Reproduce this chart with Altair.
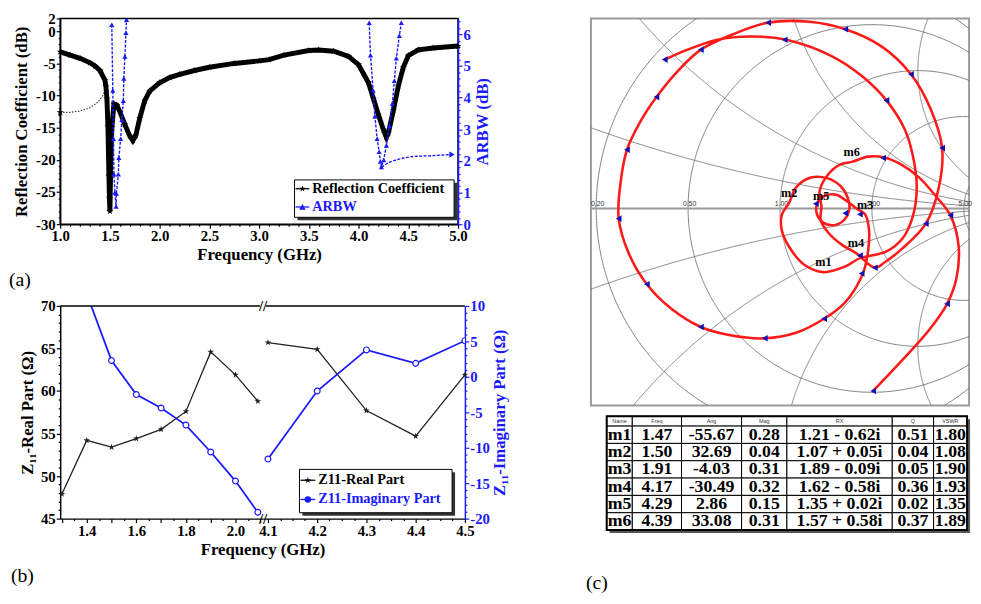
import numpy as np
import pandas as pd
import altair as alt

alt.data_transformers.disable_max_rows()

SERIF = "Liberation Serif"
SANS = "Liberation Sans"
BLUE = "#1a1aff"
NAVY = "#1212b4"
RED = "#ff1a1a"
GRID = "#707070"
STAR = ("M0,-1L0.2245,-0.309L0.9511,-0.309L0.3633,0.118L0.5878,0.809L0,0.382"
        "L-0.5878,0.809L-0.3633,0.118L-0.9511,-0.309L-0.2245,-0.309Z")

# ======================= data (a) =======================
rc_freq = [1.0, 1.1, 1.2, 1.3, 1.35, 1.4, 1.45, 1.46, 1.47, 1.48, 1.49, 1.495, 1.50, 1.51, 1.52,
           1.54, 1.57, 1.6, 1.65, 1.7, 1.73, 1.76, 1.8, 1.85, 1.9, 2.0, 2.1, 2.2, 2.35, 2.5, 2.75,
           3.0, 3.1, 3.25, 3.5, 3.6, 3.75, 3.9, 4.0, 4.1, 4.15, 4.2, 4.25, 4.28, 4.3, 4.35, 4.4,
           4.45, 4.5, 4.6, 4.75, 5.0]
rc_db = [-3.2, -3.7, -4.2, -4.9, -5.4, -6.1, -7.6, -8.6, -10.5, -14.8, -22.5, -26.0, -28.0, -19.0,
         -15.0, -11.3, -11.5, -12.5, -14.5, -16.3, -17.0, -16.2, -13.5, -10.8, -9.3, -8.0, -7.2,
         -6.7, -6.1, -5.6, -5.0, -4.6, -4.4, -3.7, -3.0, -2.9, -3.1, -3.9, -5.2, -8.0, -10.5,
         -13.0, -15.3, -16.5, -15.8, -12.3, -8.5, -5.6, -3.8, -2.9, -2.6, -2.3]
rc_low_freq = [1.0, 1.1, 1.2, 1.3, 1.38, 1.43, 1.46]
rc_low_db = [-12.6, -12.6, -12.4, -11.9, -11.0, -10.0, -8.8]
arbw1_freq = [1.519, 1.529, 1.536, 1.540, 1.550, 1.562, 1.565, 1.585, 1.590, 1.608, 1.620, 1.635,
              1.640, 1.651, 1.661, 1.667]
arbw1_db = [6.3, 4.22, 2.7, 1.58, 1.0, 0.56, 0.97, 1.58, 2.1, 2.7, 3.3, 3.9, 4.6, 5.3, 6.05, 6.46]
arbw2_freq = [4.107, 4.12, 4.147, 4.164, 4.187, 4.207, 4.22, 4.23, 4.253, 4.28, 4.31, 4.34, 4.36,
              4.38, 4.41, 4.43]
arbw2_db = [6.36, 5.34, 4.22, 3.41, 2.7, 2.29, 1.98, 1.81, 2.03, 2.49, 3.1, 3.81, 4.53, 5.24, 5.95, 6.36]
arbw3_freq = [4.23, 4.246, 4.30, 4.378, 4.45, 4.544, 4.709, 4.94]
arbw3_db = [1.81, 1.83, 1.95, 2.03, 2.09, 2.14, 2.16, 2.2]
legend_a = ["Reflection Coefficient", "ARBW"]

# ======================= data (b) =======================
real_lo_freq = [1.3, 1.4, 1.5, 1.6, 1.7, 1.8, 1.9, 2.0, 2.09]
real_lo = [47.9, 54.2, 53.4, 54.4, 55.5, 57.6, 64.6, 61.9, 58.8]
imag_lo_freq = [1.4, 1.5, 1.6, 1.7, 1.8, 1.9, 2.0, 2.09]
imag_lo = [11.7, 2.3, -2.5, -4.4, -6.8, -10.6, -14.7, -19.1]
hi_freq = [4.1, 4.2, 4.3, 4.4, 4.5]
real_hi = [65.7, 64.9, 57.7, 54.7, 61.9]
imag_hi = [-11.6, -2.0, 3.8, 1.9, 5.1]
legend_b = ["Z11-Real Part", "Z11-Imaginary Part"]

# ======================= data (c) =======================
trace_re = [-0.418, -0.335, -0.227, -0.108, 0.023, 0.189, 0.296, 0.386, 0.451, 0.481, 0.496, 0.481,
            0.445, 0.386, 0.332, 0.290, 0.237, 0.158, 0.088, 0.040, 0.008, 0.006, 0.034, 0.058,
            0.112, 0.171, 0.219, 0.246, 0.251, 0.231, 0.192, 0.154, 0.133, 0.137, 0.163, 0.204,
            0.243, 0.279, 0.309, 0.323, 0.320, 0.306, 0.279, 0.231, 0.160, 0.058, -0.055, -0.180,
            -0.287, -0.394, -0.483, -0.549, -0.585, -0.579, -0.555, -0.507, -0.448, -0.370, -0.287,
            -0.168, -0.043, 0.106, 0.237, 0.368, 0.475, 0.546, 0.588, 0.576, 0.529, 0.445, 0.380,
            0.344, 0.276, 0.225, 0.177, 0.148, 0.150, 0.144, 0.175, 0.219, 0.260, 0.320, 0.374,
            0.439, 0.505, 0.564, 0.618, 0.648, 0.639, 0.606, 0.540, 0.439, 0.338]
trace_im = [0.540, 0.576, 0.612, 0.624, 0.612, 0.552, 0.481, 0.392, 0.290, 0.195, 0.076, -0.031,
            -0.108, -0.156, -0.171, -0.180, -0.210, -0.231, -0.204, -0.150, -0.085, -0.025, 0.022,
            0.076, 0.112, 0.110, 0.082, 0.038, -0.005, -0.043, -0.061, -0.049, -0.017, 0.023, 0.046,
            0.050, 0.026, -0.001, -0.022, -0.079, -0.150, -0.221, -0.281, -0.346, -0.400, -0.451,
            -0.471, -0.460, -0.430, -0.364, -0.275, -0.162, -0.037, 0.088, 0.213, 0.314, 0.404,
            0.499, 0.576, 0.633, 0.674, 0.677, 0.650, 0.588, 0.487, 0.362, 0.219, 0.076, -0.055,
            -0.144, -0.195, -0.215, -0.162, -0.132, -0.090, -0.043, 0.007, 0.064, 0.124, 0.160,
            0.169, 0.188, 0.186, 0.160, 0.112, 0.046, -0.025, -0.138, -0.257, -0.346, -0.442,
            -0.555, -0.662]
arrow_re = [-0.418, -0.287, -0.043, 0.017, 0.237, 0.386, 0.475, 0.588, 0.529, -0.448, -0.555,
            -0.585, -0.483, -0.287, -0.055, 0.160, 0.296, 0.344, 0.290, 0.290, 0.237, 0.130,
            0.374, 0.618, 0.606, 0.338]
arrow_im = [0.540, 0.576, 0.674, 0.612, 0.650, 0.392, 0.487, 0.219, -0.055, 0.404, 0.213,
            -0.037, -0.275, -0.430, -0.471, -0.400, -0.236, -0.215, -0.171, -0.021, -0.017, 0.017,
            0.183, -0.025, -0.346, -0.662]
grid_r = [0.2, 0.5, 1.0, 2.0, 5.0]
grid_x = [0.2, 0.5, 1.0, 2.0, 5.0, -0.2, -0.5, -1.0, -2.0, -5.0]
axis_x = [0.0]
mk_name = ["m1", "m2", "m3", "m4", "m5", "m6"]
mk_freq = [1.47, 1.50, 1.91, 4.17, 4.29, 4.39]
mk_ang = [-55.67, 32.69, -4.03, -30.49, 2.86, 33.08]
mk_mag = [0.28, 0.04, 0.31, 0.32, 0.15, 0.31]
mk_rx = ["1.21 - 0.62i", "1.07 + 0.05i", "1.89 - 0.09i", "1.62 - 0.58i", "1.35 + 0.02i", "1.57 + 0.58i"]
mk_q = [0.51, 0.04, 0.05, 0.36, 0.02, 0.37]
mk_vswr = [1.80, 1.08, 1.90, 1.93, 1.35, 1.89]
table_head = ["Name", "Freq", "Ang", "Mag", "RX", "Q", "VSWR"]

ONE = pd.DataFrame({"k": [0]})


def tick_axis(values, major, label_test, label_text, **kw):
    return alt.Axis(values=values, labelExpr=f"({label_test}) ? {label_text} : ''",
                    tickSize={"condition": {"test": f"!({major})", "value": 2}, "value": 4},
                    grid=False, labelOverlap=False, labelFlush=False, **kw)


def legend(labels, colors, shapes, box, rows, sx, tx, size):
    x0, y0, x1, y1 = box
    lay = [
        alt.Chart(ONE).mark_rect(fill="#333333").encode(
            x=alt.value(x0 + 3), x2=alt.value(x1 + 3), y=alt.value(y0 + 3), y2=alt.value(y1 + 3)),
        alt.Chart(ONE).mark_rect(fill="white", stroke="black", strokeWidth=1).encode(
            x=alt.value(x0), x2=alt.value(x1), y=alt.value(y0), y2=alt.value(y1)),
    ]
    for lab, col, shp, ry in zip(labels, colors, shapes, rows):
        d = pd.DataFrame({"label": [lab]})
        lay.append(alt.Chart(d).mark_rule(color=col, strokeWidth=1.3).encode(
            x=alt.value(sx[0]), x2=alt.value(sx[1]), y=alt.value(ry)))
        lay.append(alt.Chart(d).mark_point(shape=shp, filled=True, color=col, size=45, opacity=1).encode(
            x=alt.value((sx[0] + sx[1]) / 2), y=alt.value(ry)))
        lay.append(alt.Chart(d).mark_text(align="left", baseline="middle", font=SERIF, fontWeight="bold",
                                          fontSize=size, color=col).encode(
            x=alt.value(tx), y=alt.value(ry), text="label:N"))
    return lay


# ======================= panel (a) =======================
W_A, H_A = 404, 209
xa_axis = tick_axis([round(1 + 0.1 * i, 1) for i in range(41)], "round(datum.value*10) % 5 == 0",
                    "round(datum.value*10) % 5 == 0", "format(datum.value, '.1f')",
                    title="Frequency (GHz)", titlePadding=3)
ya_axis = tick_axis(list(range(-30, 3)), "datum.value % 5 == 0 || datum.value == 2",
                    "datum.value % 5 == 0 || datum.value == 2", "'' + datum.value",
                    title="Reflection Coefficient (dB)", titlePadding=5)
yar_axis = tick_axis([round(0.2 * i, 1) for i in range(33)], "round(datum.value*10) % 10 == 0",
                     "round(datum.value*10) % 10 == 0", "'' + round(datum.value)",
                     title="ARBW (dB)", orient="right", titleAngle=270, titleBaseline="top", titlePadding=4,
                     domainColor=BLUE, tickColor=BLUE, labelColor=BLUE, titleColor=BLUE)
X_A = alt.X("f:Q", scale=alt.Scale(domain=[1, 5], nice=False, zero=False), axis=xa_axis)
Y_RC = alt.Y("db:Q", scale=alt.Scale(domain=[-30, 2], nice=False, zero=False), axis=ya_axis)
Y_AR = alt.Y("val:Q", scale=alt.Scale(domain=[0, 6.5], nice=False, zero=False), axis=yar_axis)

rc_df = pd.DataFrame({"f": rc_freq, "db": rc_db})
rc_low_df = pd.DataFrame({"f": rc_low_freq, "db": rc_low_db})
ar_df = pd.concat([pd.DataFrame({"f": fr, "val": vv, "seg": k}) for k, (fr, vv) in
                   enumerate([(arbw1_freq, arbw1_db), (arbw2_freq, arbw2_db), (arbw3_freq, arbw3_db)])])

black_a = alt.layer(
    alt.Chart(rc_low_df).mark_line(color="#333333", strokeWidth=1.2, strokeDash=[1.5, 1.5]).encode(x=X_A, y=Y_RC),
    alt.Chart(rc_low_df.iloc[:1]).mark_point(shape=STAR, filled=True, color="black", size=60, opacity=1).encode(x=X_A, y=Y_RC),
    alt.Chart(rc_df).mark_line(color="black", strokeWidth=5).encode(x=X_A, y=Y_RC),
    alt.Chart(rc_df).mark_point(shape=STAR, filled=True, color="black", size=55, opacity=1).encode(x=X_A, y=Y_RC),
)
blue_a = alt.layer(
    alt.Chart(ar_df).mark_line(color=BLUE, strokeWidth=1.4, strokeDash=[3, 1.5], clip=True).encode(
        x=X_A, y=Y_AR, detail="seg:N"),
    alt.Chart(ar_df).transform_filter("datum.seg < 2").mark_point(
        shape="triangle-up", filled=True, color=BLUE, size=28, opacity=1, clip=True).encode(x=X_A, y=Y_AR),
    alt.Chart(ar_df.iloc[-1:]).mark_point(shape="triangle-right", filled=True, color=BLUE, size=40,
                                          opacity=1).encode(x=X_A, y=Y_AR),
)
panel_a = alt.layer(
    black_a, blue_a,
    *legend(legend_a, ["black", BLUE], [STAR, "triangle-up"], (238, 164, 400, 202), [173, 191.5],
            (239, 253), 256, 14.5),
).resolve_scale(y="independent").properties(
    width=W_A, height=H_A,
    view=alt.ViewBackground(stroke="black", strokeWidth=1.5),
    title=alt.TitleParams("(a)", orient="bottom", anchor="start", frame="bounds", offset=8, dx=-4,
                          font=SERIF, fontSize=20, fontWeight="normal"),
)

# ======================= panel (b) =======================
W_BL, W_BR, H_B = 206, 205, 216
xbl_axis = tick_axis([round(1.3 + 0.05 * i, 2) for i in range(17)], "round(datum.value*100) % 10 == 0",
                     "round(datum.value*100) % 20 == 0", "format(datum.value, '.1f')",
                     title="Frequency (GHz)", titleX=205.5, titleAlign="center", titlePadding=3)
xbr_axis = tick_axis([round(4.1 + 0.025 * i, 3) for i in range(17)], "round(datum.value*1000) % 100 == 0",
                     "round(datum.value*1000) % 100 == 0", "format(datum.value, '.1f')", title="")
yre_axis = tick_axis(list(range(45, 71)), "datum.value % 5 == 0", "datum.value % 5 == 0", "'' + datum.value",
                     title="Z₁₁-Real Part (Ω)", titlePadding=4)
yim_axis = tick_axis(list(range(-20, 11)), "datum.value % 5 == 0", "datum.value % 5 == 0", "'' + datum.value",
                     title="Z₁₁-Imaginary Part (Ω)", orient="right", titleAngle=270, titleBaseline="top",
                     titlePadding=2, domainColor=BLUE, tickColor=BLUE, labelColor=BLUE, titleColor=BLUE)
RE_SCALE = alt.Scale(domain=[45, 70], nice=False, zero=False)
IM_SCALE = alt.Scale(domain=[-20, 10], nice=False, zero=False)


def b_chart(freq_re, vals_re, freq_im, vals_im, x_enc, show_left, width, extra):
    y_re = alt.Y("v:Q", scale=RE_SCALE, axis=yre_axis if show_left else None)
    y_im = alt.Y("v:Q", scale=IM_SCALE, axis=None if show_left else yim_axis)
    dre = pd.DataFrame({"f": freq_re, "v": vals_re})
    dim = pd.DataFrame({"f": freq_im, "v": vals_im})
    re = alt.layer(
        alt.Chart(dre).mark_line(color="#222222", strokeWidth=1.3).encode(x=x_enc, y=y_re),
        alt.Chart(dre).mark_point(shape=STAR, filled=True, color="#222222", size=50, opacity=1).encode(x=x_enc, y=y_re),
    )
    im = alt.layer(
        alt.Chart(dim).mark_line(color=BLUE, strokeWidth=1.8, clip=True).encode(x=x_enc, y=y_im),
        alt.Chart(dim).mark_point(shape="circle", filled=True, fill="white", stroke=BLUE, strokeWidth=1.2,
                                  size=35, opacity=1, clip=True).encode(x=x_enc, y=y_im),
    )
    return alt.layer(re, im, *extra).resolve_scale(y="independent").properties(
        width=width, height=H_B, view=alt.ViewBackground(strokeOpacity=0))


X_BL = alt.X("f:Q", scale=alt.Scale(domain=[1.293, 2.111], nice=False, zero=False), axis=xbl_axis)
X_BR = alt.X("f:Q", scale=alt.Scale(domain=[4.09, 4.5], nice=False, zero=False), axis=xbr_axis)
brk = pd.DataFrame({"t": ["//"]})
b_left = b_chart(real_lo_freq, real_lo, imag_lo_freq, imag_lo, X_BL, True, W_BL, [
    alt.Chart(ONE).mark_rule(color="black", strokeWidth=1.5).encode(
        x=alt.value(0), x2=alt.value(W_BL - 3), y=alt.value(0)),
]).properties(title=alt.TitleParams("(b)", orient="bottom", anchor="start", frame="bounds", offset=9, dx=-8,
                                    font=SERIF, fontSize=20, fontWeight="normal"))
b_right = b_chart(hi_freq, real_hi, hi_freq, imag_hi, X_BR, False, W_BR, [
    alt.Chart(ONE).mark_rule(color="black", strokeWidth=1.5).encode(
        x=alt.value(3), x2=alt.value(W_BR), y=alt.value(0)),
    alt.Chart(brk).mark_text(font=SERIF, fontSize=15, fontWeight="bold", color="black").encode(
        x=alt.value(0), y=alt.value(0), text="t:N"),
    alt.Chart(brk).mark_text(font=SERIF, fontSize=15, fontWeight="bold", color="black").encode(
        x=alt.value(0), y=alt.value(H_B), text="t:N"),
    *legend(legend_b, ["black", BLUE], [STAR, "circle"], (37, 166, 192, 210), [177, 196.5], (38, 53), 56, 14.5),
])
b_row = alt.hconcat(b_left, b_right, spacing=0, bounds="flush")

# ======================= panel (c): Smith chart =======================
W_S, H_S = 384, 393
rows = []
t = np.linspace(-np.pi / 2 + 1e-4, np.pi / 2 - 1e-4, 801)
for r in grid_r:
    z = r + 1j * np.tan(t)
    g = (z - 1) / (z + 1)
    rows += [{"g": f"r{r}", "i": i, "u": c.real, "v": c.imag} for i, c in enumerate(g)]
s = np.linspace(0, np.pi / 2 - 1e-4, 801)
for xv in grid_x + axis_x:
    z = np.tan(s) + 1j * xv
    g = (z - 1) / (z + 1)
    rows += [{"g": f"x{xv}", "i": i, "u": c.real, "v": c.imag} for i, c in enumerate(g)]
grid_df = pd.DataFrame(rows)

XS = alt.X("u:Q", scale=alt.Scale(domain=[-0.6857, 0.6857], nice=False, zero=False), axis=None)
YS = alt.Y("v:Q", scale=alt.Scale(domain=[-0.7143, 0.6893], nice=False, zero=False), axis=None)
trace_df = pd.DataFrame({"u": trace_re, "v": trace_im, "i": range(len(trace_re))})
arrow_df = pd.DataFrame({"u": arrow_re, "v": arrow_im})
mk_df = pd.DataFrame({"name": mk_name,
                      "u": [m * np.cos(np.radians(a)) for m, a in zip(mk_mag, mk_ang)],
                      "v": [m * np.sin(np.radians(a)) for m, a in zip(mk_mag, mk_ang)]})
rlab_df = pd.DataFrame({"u": [(r - 1) / (r + 1) for r in grid_r], "v": [0.0] * len(grid_r),
                        "t": [f"{r:.2f}" for r in grid_r]})

smith = alt.layer(
    alt.Chart(ONE).mark_rule(opacity=0, strokeWidth=0.5).encode(
        x=alt.value(10), x2=alt.value(11), y=alt.value(-7.5)),
    alt.Chart(grid_df).transform_filter("datum.g != 'x0.0'").mark_line(
        color=GRID, strokeWidth=0.9, clip=True).encode(x=XS, y=YS, detail="g:N", order="i:Q"),
    alt.Chart(grid_df).transform_filter("datum.g == 'x0.0'").mark_line(
        color="#9a9a9a", strokeWidth=2, clip=True).encode(x=XS, y=YS, order="i:Q"),
    alt.Chart(rlab_df).mark_text(font=SANS, fontSize=7, baseline="bottom", dy=-1, dx=1.5, color="#333").encode(
        x=XS, y=YS, text="t:N"),
    alt.Chart(trace_df).mark_line(color=RED, strokeWidth=2.6, interpolate="catmull-rom", clip=True).encode(
        x=XS, y=YS, order="i:Q"),
    alt.Chart(arrow_df).mark_point(shape="triangle-left", filled=True, color=NAVY, size=45, opacity=1,
                                   clip=True).encode(x=XS, y=YS),
    alt.Chart(mk_df).mark_text(font=SERIF, fontSize=12.5, fontWeight="bold", dy=-10, color="black").encode(
        x=XS, y=YS, text="name:N"),
).properties(width=W_S, height=H_S, view=alt.ViewBackground(stroke="#9c9c9c", strokeWidth=2))

# ======================= table =======================
W_T, H_T = 384, 125
COL_W = [26, 50, 61, 46, 107, 42, 34]
TAB_X0, HEAD_H, ROW_H = 16, 10, 17.6
edges = [TAB_X0 + sum(COL_W[:k]) for k in range(len(COL_W) + 1)]
body = [mk_name, [f"{v:.2f}" for v in mk_freq], [f"{v:.2f}" for v in mk_ang], [f"{v:.2f}" for v in mk_mag],
        mk_rx, [f"{v:.2f}" for v in mk_q], [f"{v:.2f}" for v in mk_vswr]]
cells = []
for c in range(7):
    cells.append(dict(x0=edges[c], x1=edges[c + 1], y0=0, y1=HEAD_H, txt=table_head[c], kind="head"))
    for r in range(6):
        y0 = HEAD_H + r * ROW_H
        cells.append(dict(x0=edges[c], x1=edges[c + 1], y0=y0, y1=y0 + ROW_H, txt=body[c][r], kind="body"))
cell_df = pd.DataFrame(cells)
cell_df["xc"] = (cell_df.x0 + cell_df.x1) / 2
cell_df["yc"] = (cell_df.y0 + cell_df.y1) / 2
box_df = pd.DataFrame({"x0": [edges[0]], "x1": [edges[-1]], "y0": [0], "y1": [HEAD_H + 6 * ROW_H]})
shadow_df = box_df + 3

XT = alt.Scale(domain=[0, W_T], nice=False, zero=False)
YT = alt.Scale(domain=[0, H_T], nice=False, zero=False, reverse=True)


def tx(f):
    return alt.X(f, scale=XT, axis=None)


def ty(f):
    return alt.Y(f, scale=YT, axis=None)


table = alt.layer(
    alt.Chart(shadow_df).mark_rect(fill="#555555").encode(x=tx("x0:Q"), x2="x1:Q", y=ty("y0:Q"), y2="y1:Q"),
    alt.Chart(cell_df).mark_rect(fill="white", stroke="black", strokeWidth=1).encode(
        x=tx("x0:Q"), x2="x1:Q", y=ty("y0:Q"), y2="y1:Q"),
    alt.Chart(box_df).mark_rect(fillOpacity=0, stroke="black", strokeWidth=2).encode(
        x=tx("x0:Q"), x2="x1:Q", y=ty("y0:Q"), y2="y1:Q"),
    alt.Chart(cell_df).transform_filter("datum.kind == 'head'").mark_text(
        font=SANS, fontSize=5.5, color="#333333").encode(x=tx("xc:Q"), y=ty("yc:Q"), text="txt:N"),
    alt.Chart(cell_df).transform_filter("datum.kind == 'body'").mark_text(
        font=SERIF, fontSize=18, fontWeight="bold", color="black").encode(x=tx("xc:Q"), y=ty("yc:Q"), text="txt:N"),
).properties(width=W_T, height=H_T, view=alt.ViewBackground(strokeOpacity=0),
             title=alt.TitleParams("(c)", orient="bottom", anchor="start", frame="bounds", offset=34, dx=-5,
                                   font=SERIF, fontSize=20, fontWeight="normal"))

# ======================= layout =======================
left_col = alt.vconcat(panel_a, b_row, spacing=83, bounds="flush")
right_col = alt.vconcat(smith, table, spacing=11, bounds="flush")
chart = alt.hconcat(left_col, right_col, spacing=80).properties(
    padding={"left": 0, "top": -3, "right": 0, "bottom": 0}, background="white"
).configure_axis(
    labelFont=SERIF, titleFont=SERIF, labelFontSize=15, titleFontSize=17, labelFontWeight="bold",
    titleFontWeight="bold", labelColor="black", titleColor="black", domainColor="black", tickColor="black",
    domainWidth=1.5, tickWidth=1.2, labelPadding=1,
).configure_title(font=SERIF)

chart.save("out.html", embed_options={"renderer": "svg", "actions": False})
